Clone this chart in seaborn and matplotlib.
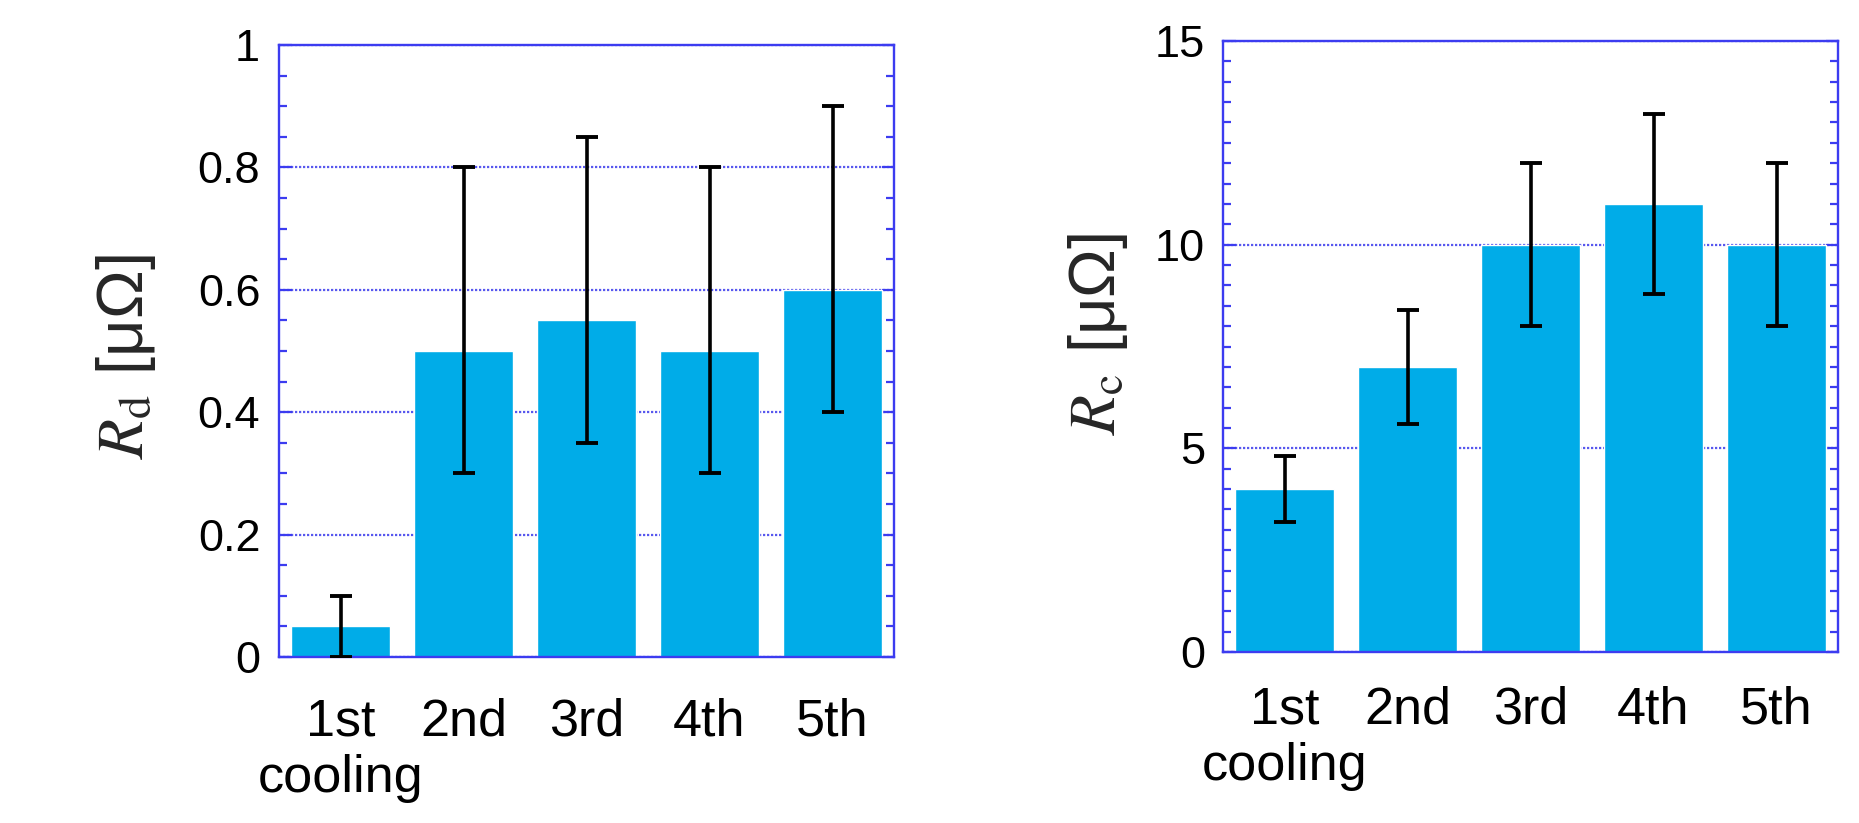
import matplotlib
matplotlib.use("Agg")
import matplotlib.pyplot as plt
import seaborn as sns
import pandas as pd
import numpy as np
from matplotlib.ticker import MultipleLocator, FuncFormatter

# ---- data ----
cycles = ["1st\ncooling", "2nd", "3rd", "4th", "5th"]
rd_values = [0.05, 0.50, 0.55, 0.50, 0.60]
rd_low = [0.00, 0.30, 0.35, 0.30, 0.40]
rd_high = [0.10, 0.80, 0.85, 0.80, 0.90]
rc_values = [4.0, 7.0, 10.0, 11.0, 10.0]
rc_low = [3.2, 5.6, 8.0, 8.8, 8.0]
rc_high = [4.8, 8.4, 12.0, 13.2, 12.0]

sns.set_style("white")
plt.rcParams["font.family"] = ["Liberation Sans", "DejaVu Sans"]
plt.rcParams["mathtext.fontset"] = "stix"

BAR = "#00ACE8"
SPINE = "#3c3cf0"
GRID = "#5858ee"

fig = plt.figure(figsize=(18.59, 8.23), dpi=100)
ax1 = fig.add_axes([279 / 1859, 1 - 657 / 823, 615 / 1859, 612 / 823])
ax2 = fig.add_axes([1223 / 1859, 1 - 652 / 823, 615 / 1859, 611 / 823])


def draw(ax, vals, low, high, ymax, major, minor, ylabel, label_x, label_y, xpad, ypad):
    df = pd.DataFrame({"cycle": cycles, "value": vals})
    sns.barplot(data=df, x="cycle", y="value", color=BAR, saturation=1,
                width=0.81, ax=ax, zorder=1)
    pos = np.arange(len(cycles))
    v = np.array(vals)
    yerr = np.vstack([v - np.array(low), np.array(high) - v])
    ax.errorbar(pos, v, yerr=yerr, fmt="none", ecolor="black", elinewidth=2.6,
                capsize=8, capthick=2.8, zorder=3)
    ax.set_xlim(-0.5, len(cycles) - 0.5)
    ax.set_ylim(0, ymax)
    ax.yaxis.set_major_locator(MultipleLocator(major))
    ax.yaxis.set_minor_locator(MultipleLocator(minor))
    ax.yaxis.set_major_formatter(FuncFormatter(lambda y, p: f"{y:g}"))
    ax.set_axisbelow(True)
    ax.yaxis.grid(True, which="major", linestyle=(0, (1, 0.8)), color=GRID, linewidth=1.6)
    ax.xaxis.grid(False)
    for s in ax.spines.values():
        s.set_visible(True)
        s.set_color(SPINE)
        s.set_linewidth(1.7)
    ax.tick_params(axis="y", which="both", direction="in", left=True, right=True,
                   color=SPINE, labelcolor="black", labelsize=32.5, pad=ypad)
    ax.tick_params(axis="y", which="major", length=9, width=1.6)
    ax.tick_params(axis="y", which="minor", length=6, width=1.6)
    ax.tick_params(axis="x", which="both", length=0, labelsize=37.5, pad=xpad,
                   labelcolor="black")
    ax.set_xlabel("")
    ax.set_ylabel(ylabel, fontsize=47)
    ax.yaxis.set_label_coords(label_x, label_y)


draw(ax1, rd_values, rd_low, rd_high, 1.0, 0.2, 0.05,
     r"$\mathit{R}_{\mathrm{d}}$ [μΩ]", -0.197, 0.49, 29, 13.5)
draw(ax2, rc_values, rc_low, rc_high, 15, 5, 0.5,
     r"$\mathit{R}_{\mathrm{c}}$ [μΩ]", -0.151, 0.52, 24, 13)

fig.savefig("out.png", dpi=100, facecolor="white")
